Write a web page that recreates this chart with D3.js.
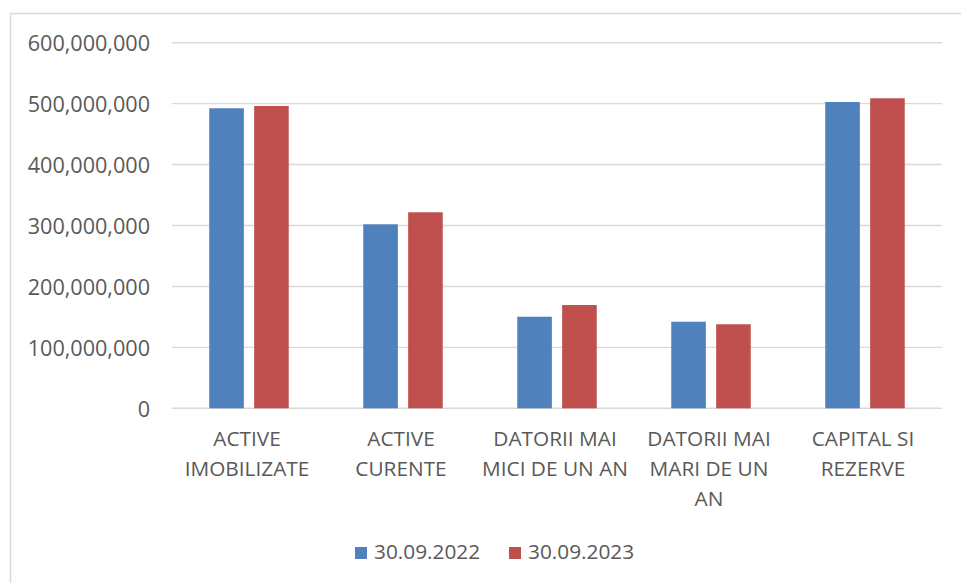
<!DOCTYPE html>
<html><head><meta charset="utf-8">
<script src="https://cdn.jsdelivr.net/npm/d3@7"></script>
<style>body{margin:0;background:#fff}svg{display:block}text{font-family:"Open Sans",sans-serif;fill:#595959}</style>
</head><body>
<svg id="c" width="961" height="583"></svg>
<script>
const categories = [["ACTIVE","IMOBILIZATE"],["ACTIVE","CURENTE"],["DATORII MAI","MICI DE UN AN"],["DATORII MAI","MARI DE UN","AN"],["CAPITAL SI","REZERVE"]];
const seriesNames = ["30.09.2022","30.09.2023"];
const values2022 = [492400000, 302000000, 150300000, 142100000, 502700000];
const values2023 = [496100000, 321700000, 169500000, 137900000, 508800000];
const yTicks = [0,100000000,200000000,300000000,400000000,500000000,600000000];
const colors = ["#4f81bd","#c0504d"];

const svg = d3.select("#c");
const fs = 20.8;
svg.append("rect").attr("x",10.5).attr("y",13.5).attr("width",990).attr("height",600)
  .attr("fill","#fff").attr("stroke","#d9d9d9").attr("stroke-width",1.5);

const x = d3.scaleBand().domain(d3.range(categories.length)).range([172,942]).padding(0);
const y = d3.scaleLinear().domain([0,600000000]).range([408.3,42.7]);

// gridlines
svg.append("g").selectAll("line").data(yTicks).join("line")
  .attr("x1",172).attr("x2",942).attr("y1",d=>y(d)).attr("y2",d=>y(d))
  .attr("stroke","#d9d9d9").attr("stroke-width",1.4);

// y axis labels via d3 axis
const yAxis = svg.append("g").attr("transform","translate(150,0)")
  .call(d3.axisLeft(y).tickValues(yTicks).tickFormat(d3.format(",")).tickSize(0).tickPadding(0));
yAxis.select(".domain").remove();
yAxis.selectAll("text").attr("font-size",21.6).attr("font-family","Open Sans").attr("fill","#595959").attr("dy","0.36em");

// bars
const barW = 34.6, gap = 10.3;
const series = [values2022, values2023];
series.forEach((vals,si)=>{
  svg.append("g").selectAll("rect").data(vals).join("rect")
    .attr("x",(d,i)=>x(i)+x.bandwidth()/2 + (si===0 ? -(barW+gap/2) : gap/2))
    .attr("width",barW)
    .attr("y",d=>y(d)).attr("height",d=>y(0)-y(d))
    .attr("fill",colors[si]);
});

// category labels
const cg = svg.append("g");
categories.forEach((lines,i)=>{
  const t = cg.append("text").attr("text-anchor","middle").attr("font-size",fs);
  lines.forEach((l,j)=>{
    t.append("tspan").attr("x",x(i)+x.bandwidth()/2-2).attr("y",446+j*30).text(l);
  });
});

// legend
const leg = svg.append("g");
const legX = [355,509];
seriesNames.forEach((n,i)=>{
  leg.append("rect").attr("x",legX[i]).attr("y",547).attr("width",12).attr("height",12).attr("fill",colors[i]);
  leg.append("text").attr("x",legX[i]+19).attr("y",559).attr("font-size",fs).text(n);
});
</script>
</body></html>
